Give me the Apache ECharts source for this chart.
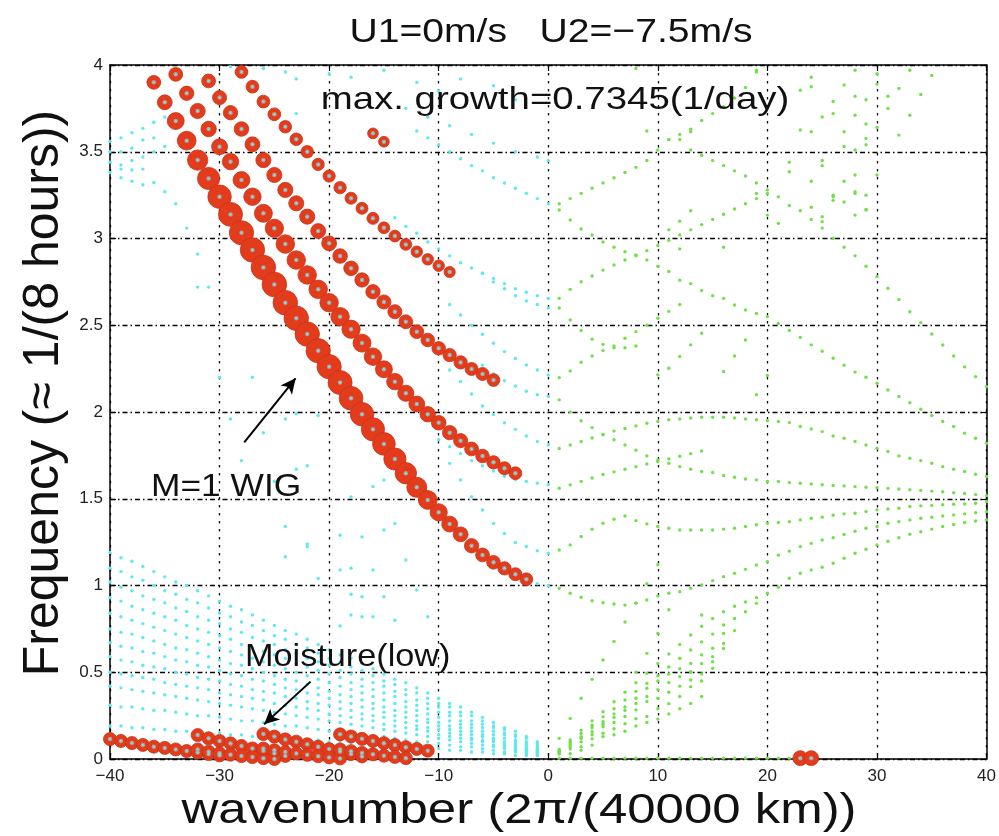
<!DOCTYPE html>
<html><head><meta charset="utf-8">
<script src="https://cdn.jsdelivr.net/npm/echarts@6/dist/echarts.min.js"></script>
<style>html,body{margin:0;padding:0;background:#fff}#c{width:999px;height:836px}</style>
</head><body><div id="c"></div>
<script>
// ---------- axis ticks ----------
const xTicks = [-40,-30,-20,-10,0,10,20,30,40];
const yTicks = [0,0.5,1,1.5,2,2.5,3,3.5,4];

// ---------- red (growing) modes: start wavenumber, frequencies, growth rate (1/day) ----------
const wigK0 = -36;
const wigFreq = [3.90,3.785,3.677,3.564,3.452,3.346,3.241,3.139,3.033,2.934,2.833,2.735,2.63,2.54,2.449,2.353,2.261,2.17,2.079,1.987,1.90,1.816,1.729,1.647,1.566,1.493,1.422,1.354,1.295,1.229,1.176,1.134,1.099,1.065,1.036];
const wigGrowth = [0.32,0.36,0.44,0.51,0.57,0.64,0.69,0.71,0.72,0.725,0.73,0.7345,0.733,0.73,0.727,0.723,0.72,0.71,0.70,0.69,0.68,0.66,0.64,0.61,0.56,0.51,0.45,0.40,0.36,0.34,0.32,0.31,0.30,0.29,0.28];
const redBK0 = -34;
const redBFreq = [3.946,3.837,3.735,3.631,3.529,3.443,3.337,3.241,3.145,3.059,2.968,2.876,2.79,2.707,2.63,2.549,2.477,2.397,2.319,2.246,2.175,2.108,2.046,1.987,1.938,1.881,1.835,1.787,1.746,1.71,1.676,1.647];
const redBGrowth = [0.32,0.34,0.37,0.38,0.40,0.42,0.44,0.46,0.48,0.49,0.50,0.50,0.50,0.50,0.50,0.50,0.49,0.48,0.46,0.44,0.42,0.41,0.40,0.38,0.35,0.34,0.33,0.32,0.31,0.30,0.29,0.28];
const redCK0 = -31;
const redCFreq = [3.908,3.812,3.725,3.631,3.543,3.452,3.366,3.28,3.203,3.126,3.043,2.972,2.899,2.828,2.761,2.693,2.634,2.578,2.52,2.463,2.415,2.367,2.328,2.286,2.248,2.219,2.184];
const redCGrowth = [0.32,0.33,0.34,0.35,0.36,0.37,0.37,0.37,0.37,0.37,0.36,0.36,0.35,0.35,0.34,0.34,0.33,0.33,0.32,0.32,0.31,0.31,0.30,0.30,0.29,0.29,0.28];
const redDK0 = -28;
const redDFreq = [3.96,3.875,3.789,3.716,3.644,3.572,3.5,3.427,3.36,3.293,3.232,3.174,3.116,3.062,3.014,2.966,2.924,2.88,2.843,2.807];
const redDGrowth = [0.28,0.28,0.28,0.28,0.27,0.27,0.27,0.26,0.26,0.26,0.25,0.25,0.25,0.24,0.24,0.24,0.23,0.23,0.23,0.22];
const redEK = [-22,-16,-15];
const redEFreq = [4.005,3.606,3.558];
const redEGrowth = [0.22,0.20,0.20];
// moisture (low) modes
const moistGrowth = 0.29;
const moist1K0 = -40, moist1 = [0.115,0.104,0.092,0.081,0.071,0.064,0.055,0.046,0.037,0.029,0.021];
const moist2K0 = -32, moist2 = [0.138,0.119,0.104,0.09,0.075,0.061,0.048,0.033,0.018];
const moist2bK0 = -32, moist2b = [0.055,0.042,0.033,0.025,0.017,0.011,0.005,0.0];
const moist3K0 = -26, moist3 = [0.144,0.129,0.113,0.1,0.085,0.071,0.057,0.043,0.029,0.015];
const moist3bK0 = -26, moist3b = [0.06,0.05,0.04,0.032,0.024,0.016,0.009,0.003];
const moist4K0 = -19, moist4 = [0.142,0.13,0.116,0.104,0.091,0.08,0.068,0.058,0.048];
const moist4bK0 = -19, moist4b = [0.055,0.045,0.035,0.027,0.019,0.012,0.005];
const eastK = [23,24], eastFreq = [0.005,0.005], eastGrowth = [0.36,0.36];

// ---------- cyan (westward, k<0) neutral modes ----------
const fanK0 = -40;
const fan1 = [1.19,1.16,1.14,1.11,1.08,1.05,1.02,1.00,0.97,0.94,0.91,0.88,0.86,0.83,0.80,0.77,0.74,0.72,0.69,0.66,0.63,0.60,0.58,0.55,0.52,0.49,0.46,0.44,0.41,0.38,0.35,0.32,0.30,0.27,0.24,0.21,0.18,0.16,0.13,0.10];
const fan2 = [1.10,1.08,1.05,1.03,1.00,0.97,0.95,0.92,0.90,0.87,0.84,0.82,0.79,0.77,0.74,0.71,0.69,0.66,0.64,0.61,0.58,0.56,0.53,0.51,0.48,0.45,0.43,0.40,0.38,0.35,0.32,0.30,0.27,0.25,0.22,0.19,0.17,0.14,0.12,0.09];
const fan3 = [1.02,0.99,0.97,0.94,0.92,0.90,0.87,0.85,0.82,0.80,0.78,0.75,0.73,0.70,0.68,0.66,0.63,0.61,0.58,0.56,0.54,0.51,0.49,0.46,0.44,0.42,0.39,0.37,0.34,0.32,0.30,0.27,0.25,0.22,0.20,0.18,0.15,0.13,0.10,0.08];
const fan4 = [0.93,0.91,0.88,0.86,0.84,0.82,0.80,0.77,0.75,0.73,0.71,0.69,0.66,0.64,0.62,0.60,0.58,0.55,0.53,0.51,0.49,0.47,0.44,0.42,0.40,0.38,0.36,0.33,0.31,0.29,0.27,0.25,0.22,0.20,0.18,0.16,0.14,0.11,0.09,0.07];
const fan5 = [0.84,0.82,0.80,0.78,0.76,0.74,0.72,0.70,0.68,0.66,0.64,0.62,0.60,0.58,0.56,0.54,0.52,0.50,0.48,0.46,0.44,0.42,0.40,0.38,0.36,0.34,0.32,0.30,0.28,0.26,0.24,0.22,0.20,0.18,0.16,0.14,0.12,0.10,0.08,0.06];
const fan6 = [0.75,0.73,0.72,0.70,0.68,0.66,0.64,0.63,0.61,0.59,0.57,0.55,0.54,0.52,0.50,0.48,0.46,0.45,0.43,0.41,0.39,0.37,0.36,0.34,0.32,0.30,0.28,0.27,0.25,0.23,0.21,0.19,0.18,0.16,0.14,0.12,0.10,0.09,0.07,0.05];
const fan7 = [0.67,0.65,0.64,0.62,0.61,0.59,0.57,0.56,0.54,0.53,0.51,0.49,0.48,0.46,0.45,0.43,0.41,0.40,0.38,0.37,0.35,0.33,0.32,0.30,0.29,0.27,0.25,0.24,0.22,0.21,0.19,0.17,0.16,0.14,0.13,0.11,0.09,0.08,0.06,0.05];
const fan8 = [0.59,0.57,0.56,0.54,0.53,0.52,0.50,0.49,0.47,0.46,0.45,0.43,0.42,0.40,0.39,0.38,0.36,0.35,0.33,0.32,0.31,0.29,0.28,0.26,0.25,0.24,0.22,0.21,0.19,0.18,0.17,0.15,0.14,0.12,0.11,0.10,0.08,0.07,0.05,0.04];
const fan9 = [0.50,0.49,0.48,0.47,0.46,0.44,0.43,0.42,0.41,0.40,0.38,0.37,0.36,0.35,0.34,0.32,0.31,0.30,0.29,0.28,0.26,0.25,0.24,0.23,0.22,0.20,0.19,0.18,0.17,0.16,0.14,0.13,0.12,0.11,0.10,0.08,0.07,0.06,0.05,0.04];
const fan10 = [0.42,0.41,0.40,0.39,0.38,0.37,0.36,0.35,0.34,0.33,0.32,0.31,0.30,0.29,0.28,0.27,0.26,0.25,0.24,0.23,0.22,0.21,0.20,0.19,0.18,0.17,0.16,0.15,0.14,0.13,0.12,0.11,0.10,0.09,0.08,0.07,0.06,0.05,0.04,0.03];
const fan11 = [0.31,0.30,0.30,0.29,0.28,0.28,0.27,0.26,0.25,0.25,0.24,0.23,0.22,0.22,0.21,0.20,0.19,0.19,0.18,0.17,0.16,0.16,0.15,0.14,0.13,0.13,0.12,0.11,0.10,0.10,0.09,0.08,0.07,0.07,0.06,0.05,0.04,0.04,0.03,0.02];
const fan12 = [0.19,0.19,0.18,0.18,0.17,0.17,0.16,0.16,0.15,0.15,0.15,0.14,0.14,0.13,0.13,0.12,0.12,0.11,0.11,0.11,0.10,0.10,0.09,0.09,0.08,0.08,0.07,0.07,0.06,0.06,0.06,0.05,0.05,0.04,0.04,0.03,0.03,0.02,0.02,0.02];
const cyanR1K0 = -12, cyanR1 = [3.62,3.58,3.54,3.50,3.46,3.42,3.39,3.35,3.32,3.29,3.26,3.23,3.20];
const cyanR2K0 = -14, cyanR2 = [3.12,3.07,3.03,2.98,2.94,2.90,2.86,2.83,2.80,2.77,2.74,2.71,2.69,2.67,2.655];
const cyanR3K0 = -6, cyanR3 = [2.80,2.75,2.71,2.67,2.64,2.62,2.60];
const cyanR4K0 = -9, cyanR4 = [2.62,2.559,2.50,2.448,2.396,2.348,2.309,2.271,2.242,2.213];
const cyanR5K0 = -6, cyanR5 = [2.27,2.22,2.18,2.15,2.12,2.10,2.09];
const cyanR6K0 = -9, cyanR6 = [2.242,2.175,2.104,2.035,1.985,1.938,1.90,1.862,1.83,1.81];
const cyanR7K0 = -10, cyanR7 = [1.84,1.80,1.76,1.72,1.69,1.66,1.63,1.61,1.60,1.59,1.58];
const cyanR8K0 = -9, cyanR8 = [1.704,1.608,1.512,1.435,1.358,1.30,1.248,1.225,1.20,1.186];
const cyanR9K0 = -5, cyanR9 = [1.10,1.07,1.05,1.03,1.01,1.0];
const cyanTopLeft = [[-40,3.56],[-39,3.58],[-38,3.61],[-37,3.635],[-36,3.67],[-35,3.70],[-40,3.50],[-39,3.50],[-38,3.52],[-37,3.568],[-36,3.58],[-40,3.44],[-39,3.424],[-38,3.45],[-37,3.47],[-36,3.50],[-35,3.53],[-40,3.38],[-39,3.40],[-38,3.395],[-37,3.40],[-36,3.323],[-35,3.27],[-34,3.20],[-33,3.06],[-32,2.91],[-31,2.72],[-38,3.33],[-37,3.31],[-39,3.35]];
const cyanScatter = [[-22,1.224],[-24,1.166],[-21,1.04],[-19,1.09],[-18,1.099],[-16,1.09],[-13,1.147],[-12,0.974],[-11,0.82],[-14,0.80],[-15,0.935],[-17,0.935],[-18,0.83],[-19,0.767],[-14,1.358],[-17,1.28],[-15,1.608],[-19,1.29],[-18,1.51],[-18,0.95],[-17,0.82],[-16,0.82],[-32,2.72],[-30,2.2],[-29,1.96],[-28,1.72],[-27,2.2],[-26,1.88],[-25,1.6],[-24,1.96],[-24,1.34],[-23,1.99],[-23,1.67],[-22,1.69],[-22,1.24],[-21,1.98],[-16,1.57],[-15,1.32]];
const cyanTop = [[-29,3.99],[-26,3.98],[-24,3.96],[-23,3.92],[-23,3.72],[-20,3.95],[-18,3.93],[-15,3.97],[-12,3.9],[-10,3.85],[-8,3.92],[-5,3.88],[-3,3.8],[-13,3.75],[-11,3.7],[-9,3.65],[-7,3.6],[-5,3.55],[-3,3.5],[-1,3.47],[0,3.45]];

// ---------- green (eastward, k>0) neutral modes ----------
const gBottomK0 = 1, gBottom = [0.005,0.005,0.005,0.005,0.005,0.005,0.005,0.005,0.005,0.005,0.005,0.005,0.005,0.005,0.005,0.005,0.005,0.005,0.005,0.005,0.005,0.005];
const gSteepK0 = 1, gSteep = [0.119,0.234,0.35,0.459,0.571,0.677,0.79,0.897,1.01,1.12];
const gSteep2K0 = 8, gSteep2 = [0.50,0.609,0.724,0.86];
const gF1 = [0.055,0.11,0.165,0.22,0.272,0.33,0.385,0.44,0.494,0.55,0.605,0.66,0.715,0.765,0.81,0.849,0.88,0.905,0.93,0.955,0.99,1.042,1.071,1.09,1.105,1.128,1.157,1.186,1.209,1.234,1.255,1.275,1.295,1.31,1.325,1.34,1.352,1.363,1.372,1.378];
const gF2 = [0.05,0.10,0.147,0.195,0.243,0.29,0.34,0.39,0.436,0.48,0.53,0.58,0.628,0.675,0.72,0.772,0.81,0.849,0.897];
const gF3 = [0.045,0.09,0.128,0.18,0.215,0.26,0.30,0.35,0.408,0.45,0.49,0.52,0.551,0.60,0.638,0.724,0.74];
const gF4 = [0.04,0.08,0.12,0.157,0.20,0.24,0.28,0.32,0.36,0.40,0.44,0.475,0.503,0.55,0.59,0.666];
const gF5 = [0.035,0.07,0.10,0.14,0.186,0.21,0.245,0.283,0.331,0.35,0.385,0.42,0.455,0.49,0.561,0.637];
const gF6 = [0.029,0.058,0.071,0.116,0.148,0.174,0.203,0.232,0.245,0.29,0.319,0.36,0.417,0.45,0.523];
const gF7K0 = 2, gF7 = [0.03,0.05,0.08,0.129,0.14,0.16,0.19,0.21,0.23,0.26,0.29,0.32,0.36];
const gU1 = [3.20,3.23,3.26,3.29,3.32,3.35,3.38,3.41,3.45,3.51,3.57,3.60,3.63,3.68,3.72,3.76,3.81,3.87,3.96];
const gD1 = [3.164,3.107,3.055,3.02,2.98,2.95,2.924,2.90,2.876,2.84,2.81,2.76,2.74,2.70,2.67,2.655,2.617,2.588,2.568,2.55,2.51,2.47,2.43,2.387,2.35,2.31,2.27,2.23,2.20,2.166,2.127,2.089,2.054,2.016,1.98,1.945,1.916,1.878,1.849,1.82];
const gU2 = [2.655,2.707,2.751,2.784,2.818,2.847,2.876,2.905,2.93,2.96,2.99,3.02,3.05,3.08,3.11,3.14,3.17,3.20,3.23,3.26];
const gD2 = [2.60,2.53,2.47,2.42,2.39,2.37,2.37,2.38];
const gU3 = [2.198,2.237,2.287,2.323,2.354,2.381,2.425,2.463,2.50,2.54,2.58,2.62];
const gU6K0 = 10, gU6 = [2.214,2.252,2.32,2.387,2.454];
const gD3 = [2.07,2.0,1.95,1.91,1.87,1.84,1.81,1.78,1.747,1.724,1.705,1.685,1.67,1.657,1.651,1.634,1.624,1.614,1.609,1.599,1.599,1.593,1.589,1.585,1.581,1.576,1.574,1.57,1.566,1.564,1.56,1.556,1.552,1.548,1.544,1.54,1.535,1.53,1.524,1.518];
const gU4 = [1.79,1.81,1.83,1.85,1.87,1.89,1.905,1.92,1.935,1.945,1.955,1.96,1.965,1.97,1.97,1.97,1.965,1.96,1.955,1.95,1.945,1.939,1.916,1.902,1.887,1.862,1.849,1.83,1.81,1.791,1.772,1.747,1.733,1.72,1.705,1.685,1.67,1.657,1.641,1.628];
const gU5 = [1.561,1.58,1.60,1.62,1.64,1.655,1.67,1.685,1.70,1.715,1.73,1.745,1.76,1.775];
const gB1 = [1.205,1.234,1.282,1.324,1.359,1.382,1.401,1.374,1.355,1.34,1.33,1.32,1.32,1.32,1.32,1.325,1.33,1.34,1.35,1.359,1.363,1.368,1.378,1.388,1.394,1.405,1.413,1.416,1.426,1.436,1.441,1.445,1.455,1.459,1.461,1.465,1.468,1.47,1.474,1.484];
const gU1b = [0.984,0.955,0.932,0.912,0.901,0.893,0.887,0.90,0.916,0.94,0.955,0.964,0.984,1.003,1.028,1.051,1.07,1.093,1.118,1.137,1.175,1.198,1.224,1.243,1.262,1.275,1.294,1.313,1.33,1.34,1.359,1.368,1.378,1.388,1.393,1.401,1.407,1.413,1.42,1.426];
const gTR1K0 = 13, gTR1 = [3.51,3.48,3.45,3.42,3.39,3.36,3.32,3.28,3.24,3.19,3.16,3.11,3.06,3.0,2.95,2.90,2.84,2.78,2.713,2.649,2.578,2.515,2.45,2.386,2.323,2.26,2.204,2.146];
const greenScatter = [[23,3.855],[24,3.875],[24,3.93],[25,3.70],[26,3.72],[26,3.79],[27,3.885],[28,3.97],[28,3.82],[29,3.80],[30,3.95],[30,3.89],[31,3.82],[31,3.75],[32,3.865],[33,3.97],[33,3.71],[34,3.83],[35,3.94],[23,3.625],[24,3.615],[27,3.615],[28,3.71],[29,3.66],[29,3.577],[30,3.64],[32,3.596],[27,3.53],[28,3.51],[29,3.54],[22,3.44],[22,3.385],[24,3.33],[25,3.45],[25,3.42],[26,3.25],[27,3.33],[28,3.366],[28,3.26],[29,3.25],[29,3.168],[30,3.366],[24,3.18],[25,3.125],[25,3.097],[26,3.24],[26,3.22],[27,3.21],[28,3.27],[28,3.135],[29,3.164],[8,3.98],[19,3.97],[9,3.62],[11,3.57],[12,3.57],[13,3.615],[11,3.05],[12,3.1],[13,3.16],[12,2.94],[16,2.95],[19,3.26],[20,3.135],[21,3.087],[19,2.1],[20,2.21],[16,2.233],[17,2.323],[18,2.415],[14,0.83],[12,0.58],[13,0.5]];

// annotation arrows (data coordinates: tail, head)
const arrowWig = [[-27.75,1.825],[-23.06,2.194]];
const arrowMoist = [[-21.7,0.446],[-25.93,0.20]];

// ---------- build ----------
const seq = (k0, arr) => arr.map((f, i) => [k0 + i, f]);
const seqG = (k0, arr, g) => arr.map((f, i) => [k0 + i, f, Array.isArray(g) ? g[i] : g]);

const cyanData = [].concat(
  ...[fan1,fan2,fan3,fan4,fan5,fan6,fan7,fan8,fan9,fan10,fan11,fan12].map(a => seq(fanK0, a)),
  seq(cyanR1K0, cyanR1), seq(cyanR2K0, cyanR2), seq(cyanR3K0, cyanR3), seq(cyanR4K0, cyanR4),
  seq(cyanR5K0, cyanR5), seq(cyanR6K0, cyanR6), seq(cyanR7K0, cyanR7), seq(cyanR8K0, cyanR8),
  seq(cyanR9K0, cyanR9), cyanTopLeft, cyanScatter, cyanTop
);
const greenData = [].concat(
  seq(gBottomK0, gBottom), seq(gSteepK0, gSteep), seq(gSteep2K0, gSteep2),
  seq(1, gF1), seq(1, gF2), seq(1, gF3), seq(1, gF4), seq(1, gF5), seq(1, gF6), seq(gF7K0, gF7),
  seq(1, gU1), seq(1, gD1), seq(1, gU2), seq(1, gD2), seq(1, gU3), seq(gU6K0, gU6),
  seq(1, gD3), seq(1, gU4), seq(1, gU5), seq(1, gB1), seq(1, gU1b), seq(gTR1K0, gTR1), greenScatter
);
const redData = [].concat(
  seqG(wigK0, wigFreq, wigGrowth), seqG(redBK0, redBFreq, redBGrowth),
  seqG(redCK0, redCFreq, redCGrowth), seqG(redDK0, redDFreq, redDGrowth),
  redEK.map((k, i) => [k, redEFreq[i], redEGrowth[i]]),
  seqG(moist1K0, moist1, moistGrowth), seqG(moist2K0, moist2, moistGrowth), seqG(moist2bK0, moist2b, moistGrowth),
  seqG(moist3K0, moist3, moistGrowth), seqG(moist3bK0, moist3b, moistGrowth),
  seqG(moist4K0, moist4, moistGrowth), seqG(moist4bK0, moist4b, moistGrowth),
  eastK.map((k, i) => [k, eastFreq[i], eastGrowth[i]])
);

const FONT = '"Liberation Sans", Arial, Helvetica, sans-serif';
const minus = v => (v < 0 ? '\u2212' + Math.abs(v) : String(v));
const frame = {show: true, onZero: false, lineStyle: {color: '#000', width: 1.5}};
const tick = {show: true, inside: true, length: 6, lineStyle: {color: '#000', width: 1.2}};

const chart = echarts.init(document.getElementById('c'), null, {renderer: 'canvas'});
chart.setOption({
  animation: false,
  backgroundColor: '#fff',
  grid: {left: 110, right: 7, top: 65, bottom: 77, containLabel: false},
  xAxis: [
    {type: 'value', min: xTicks[0], max: xTicks[xTicks.length - 1], interval: 10, position: 'bottom',
     axisLine: frame, axisTick: tick,
     axisLabel: {formatter: minus, fontSize: 17, color: '#222', fontFamily: FONT, margin: 9},
     splitLine: {show: true, lineStyle: {color: '#000', width: 1.3, type: [2.5, 5.5]}}},
    {type: 'value', min: xTicks[0], max: xTicks[xTicks.length - 1], interval: 10, position: 'top',
     axisLine: frame, axisTick: tick, axisLabel: {show: false}, splitLine: {show: false}}
  ],
  yAxis: [
    {type: 'value', min: yTicks[0], max: yTicks[yTicks.length - 1], interval: 0.5, position: 'left',
     axisLine: frame, axisTick: tick,
     axisLabel: {formatter: v => String(v), fontSize: 17, color: '#222', fontFamily: FONT, margin: 7},
     splitLine: {show: true, lineStyle: {color: '#000', width: 1.3, type: [5, 3, 1.5, 3]}}},
    {type: 'value', min: yTicks[0], max: yTicks[yTicks.length - 1], interval: 0.5, position: 'right',
     axisLine: frame, axisTick: tick, axisLabel: {show: false}, splitLine: {show: false}}
  ],
  series: [
    {type: 'scatter', name: 'westward', data: cyanData, symbol: 'circle', symbolSize: 3.4, z: 2,
     itemStyle: {color: '#5fe9ec', opacity: 1}, silent: true,
     markLine: {silent: true, symbol: ['none', 'arrow'], symbolSize: [11, 15], animation: false,
       label: {show: false}, lineStyle: {color: '#000', width: 2, type: 'solid'},
       data: [[{coord: arrowWig[0]}, {coord: arrowWig[1]}], [{coord: arrowMoist[0]}, {coord: arrowMoist[1]}]]}},
    {type: 'scatter', name: 'eastward', data: greenData, symbol: 'circle', symbolSize: 3.4, z: 2,
     itemStyle: {color: '#72e04a', opacity: 1}, silent: true},
    {type: 'scatter', name: 'growing', data: redData, symbol: 'circle', z: 3, silent: true,
     symbolSize: v => 5.5 + 26 * v[2],
     itemStyle: {color: '#e23c1c', borderColor: '#c9321a', borderWidth: 0.8, opacity: 1}},
    {type: 'scatter', name: 'hole', data: redData, symbol: 'circle', z: 4, silent: true,
     symbolSize: 4.5, itemStyle: {color: '#b89a95', opacity: 1}},
    {type: 'scatter', name: 'centre', data: redData, symbol: 'circle', z: 5, silent: true,
     symbolSize: 2.4, itemStyle: {color: '#6fe3e6', opacity: 1}}
  ],
  graphic: [
    {type: 'text', x: 551, y: 33, scaleX: 1.15, z: 100,
     style: {text: 'U1=0m/s   U2=\u22127.5m/s', font: '34px ' + FONT, fill: '#111', align: 'center', verticalAlign: 'middle'}},
    {type: 'text', x: 555, y: 100, scaleX: 1.2, z: 100,
     style: {text: 'max. growth=0.7345(1/day)', font: '32px ' + FONT, fill: '#111', align: 'center', verticalAlign: 'middle'}},
    {type: 'text', x: 151, y: 487, scaleX: 1.14, z: 100,
     style: {text: 'M=1 WIG', font: '31px ' + FONT, fill: '#111', align: 'left', verticalAlign: 'middle'}},
    {type: 'text', x: 245, y: 657, scaleX: 1.07, z: 100,
     style: {text: 'Moisture(low)', font: '32px ' + FONT, fill: '#111', align: 'left', verticalAlign: 'middle'}},
    {type: 'text', x: 519, y: 811, scaleX: 1.185, z: 100,
     style: {text: 'wavenumber (2\u03c0/(40000 km))', font: '43px ' + FONT, fill: '#111', align: 'center', verticalAlign: 'middle'}},
    {type: 'text', x: 44, y: 393, rotation: Math.PI / 2, scaleY: 1.0, z: 100,
     style: {text: 'Frequency (\u2248 1/(8 hours))', font: '50px ' + FONT, fill: '#111', align: 'center', verticalAlign: 'middle'}}
  ]
});
</script></body></html>
